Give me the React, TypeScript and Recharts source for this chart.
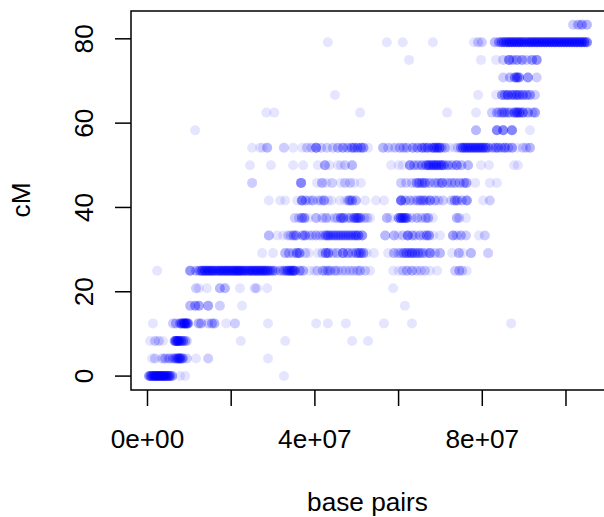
import React from "react";
import { ScatterChart, Scatter, XAxis, YAxis, ReferenceArea, Label } from "recharts";

// Each row: marker positions on one genetic-map level. Pairs are [position in Mb, number of markers there].
type Row = [number, number][];
const cMLevels = [0, 4.17, 8.33, 12.5, 16.67, 20.83, 25, 29.17, 33.33, 37.5, 41.67, 45.83, 50, 54.17, 58.33, 62.5, 66.67, 70.83, 75, 79.17, 83.33];
const row00: Row = [[0.4,5],[0.8,5],[1.1,5],[1.5,6],[1.8,6],[2.2,6],[2.5,6],[2.9,6],[3.2,6],[3.6,6],[3.9,6],[4.3,6],[4.7,6],[5.1,5],[5.4,5],[5.9,4],[7.8,1],[9.0,1],[32.6,1]];
const row01: Row = [[1.1,1],[1.8,2],[3.5,2],[4.2,3],[5.0,2],[5.4,2],[6.1,3],[6.6,4],[7.1,5],[7.5,6],[7.8,5],[8.2,4],[8.5,3],[9.4,2],[11.6,1],[14.5,2],[28.8,1]];
const row02: Row = [[0.6,1],[1.8,2],[2.7,2],[3.7,1],[6.5,5],[6.8,7],[7.2,7],[7.5,7],[8.0,6],[8.5,5],[9.0,3],[9.4,2],[22.3,1],[32.9,1],[48.9,1],[52.7,1]];
const row03: Row = [[1.3,1],[6.1,2],[6.8,3],[7.8,4],[8.2,6],[8.7,7],[9.0,7],[9.4,6],[9.7,5],[12.2,3],[12.8,3],[14.5,2],[15.4,3],[16,3],[18.8,1],[20.9,2],[28.8,1],[40.3,1],[43.1,1],[47.4,1],[56.5,1],[63.2,1],[86.9,1]];
const row04: Row = [[10.2,3],[11.4,4],[12.3,4],[14.5,4],[17.3,2],[22.6,1],[61.5,1]];
const row05: Row = [[11.6,2],[12.3,1],[14.2,1],[17.3,3],[18.5,3],[22.1,1],[25.7,2],[26.2,1],[28.6,1],[58.7,1]];
const row06: Row = [[2.3,1],[10.2,5],[11.6,3],[12.5,5],[13.1,6],[13.7,7],[14.3,7],[14.9,7],[15.5,7],[16.1,6],[16.7,6],[17.3,7],[17.9,7],[18.5,7],[19.1,7],[19.7,7],[20.3,7],[20.9,8],[21.5,8],[22.1,8],[22.7,7],[23.3,6],[23.9,6],[24.5,7],[25.1,7],[25.7,7],[26.3,7],[26.9,7],[27.5,7],[28.1,7],[28.7,6],[29.3,5],[29.9,4],[30.5,3],[31.7,3],[32.5,3],[32.9,3],[33.5,6],[34.1,7],[34.7,7],[35.2,6],[36.4,4],[37.2,3],[38.8,1],[39.9,1],[40.6,2],[41.9,3],[42.5,2],[43.1,3],[43.7,3],[44.8,3],[45.5,2],[46.5,2],[47.4,2],[48.4,2],[49.2,2],[50.1,2],[50.8,3],[52,2],[53.2,1],[58.7,1],[60,1],[61,2],[62,3],[63.2,3],[64.3,2],[65.3,2],[66.3,2],[67.5,1],[69.2,1],[73.5,2],[74.5,3],[75.2,2],[76.3,1]];
const row07: Row = [[27.4,1],[30,1],[32.9,3],[33.8,3],[34.8,2],[35.7,5],[36.3,5],[37.7,2],[38.5,1],[40.7,1],[41.8,2],[42.6,5],[43.2,5],[44.3,2],[45.3,3],[46.7,6],[47.9,4],[48.9,3],[49.9,4],[50.5,4],[51,4],[51.6,4],[52.4,1],[54.1,1],[57.5,1],[58.9,3],[59.9,2],[60.5,2],[61.2,4],[61.9,5],[62.6,4],[63.2,5],[63.9,4],[64.6,4],[65.2,3],[65.8,3],[66.6,2],[67.5,5],[68.7,2],[69.9,3],[72.8,1],[74.4,3],[75.3,1],[77.3,3],[81.4,2]];
const row08: Row = [[29,3],[31,1],[32.4,1],[33.6,2],[34.2,2],[34.9,4],[35.5,4],[37.1,4],[37.7,4],[38.7,2],[39.4,2],[40.3,3],[41.2,2],[41.9,2],[42.6,5],[43.2,5],[43.8,4],[44.4,4],[45,4],[45.6,4],[46.2,4],[46.8,4],[47.4,4],[48,4],[48.6,4],[49.2,4],[49.8,5],[50.4,5],[51.3,5],[56.8,3],[58.9,3],[59.9,1],[61,2],[62.2,6],[63.3,3],[64,2],[65.1,3],[66,2],[66.7,4],[67.3,4],[68.3,1],[69.9,1],[73,4],[73.9,2],[74.9,3],[76.1,2],[79.2,1],[80.6,2]];
const row09: Row = [[35.2,2],[36.2,2],[36.9,4],[37.5,4],[38.4,1],[40.3,3],[41.8,2],[42.7,3],[43.6,1],[44.8,2],[45.4,2],[46.2,5],[46.8,5],[47.8,2],[48.5,3],[49.4,5],[49.9,5],[50.4,5],[50.9,4],[51.8,2],[52.5,2],[53.2,1],[57.2,3],[58,1],[60,5],[60.5,6],[61,6],[61.5,6],[62,5],[63.1,2],[64.4,3],[65.5,2],[66.5,3],[67.1,3],[68.2,1],[73.9,3],[74.5,2],[76.1,1]];
const row10: Row = [[29,1],[31.7,1],[32.9,1],[35.8,1],[36.9,6],[37.8,3],[38.7,2],[39.5,3],[40.8,2],[41.5,2],[42.2,4],[43.2,1],[44,1],[46,1],[47.2,1],[47.9,2],[48.3,4],[48.9,4],[49.8,3],[52,1],[54.6,1],[56.5,1],[60.6,8],[61.6,3],[62.7,3],[63.7,2],[64.5,3],[65.2,4],[65.9,4],[66.6,3],[67.5,5],[68.7,3],[69.5,2],[70.6,2],[72.6,2],[73.4,4],[74,4],[75.1,3],[76.3,5],[80.2,1],[81.8,2]];
const row11: Row = [[25,2],[36.7,6],[40.5,1],[41.7,3],[42.7,1],[44.1,2],[46.2,1],[47.2,2],[48.4,2],[49.4,1],[51,1],[60.6,2],[61.8,2],[63.2,2],[64.3,4],[64.9,4],[65.6,4],[66.3,5],[67.4,3],[68.6,3],[69.5,3],[70.4,5],[71.6,3],[72.6,3],[73.5,3],[74.6,3],[75.6,3],[76.2,4],[78.3,1],[81.8,1],[83.5,1]];
const row12: Row = [[24.5,1],[29.5,1],[34.8,1],[37.2,1],[40.7,1],[42.4,4],[43.5,1],[45.5,1],[46.2,1],[47.2,2],[48.9,3],[58.2,1],[60,1],[61,1],[62.7,5],[63.7,3],[64.6,3],[65.6,4],[66.6,5],[67.2,6],[67.8,5],[68.4,6],[69,6],[69.6,5],[70.2,6],[70.8,5],[71.8,4],[72.8,3],[73.9,5],[75,3],[76.6,3],[79.7,1],[81.6,1],[87.6,1],[88.5,1]];
const row13: Row = [[25,1],[26.9,1],[27.5,1],[28.6,3],[32.6,2],[34.8,1],[37,1],[38.1,2],[39.2,2],[40.3,6],[41.5,2],[42.9,2],[44.3,2],[45.5,3],[46.7,4],[47.8,3],[48.8,4],[49.4,4],[50.2,4],[51,4],[51.6,4],[52.7,1],[56.3,3],[57.5,2],[58.4,1],[59.2,2],[60.3,3],[61.2,3],[62,3],[63.4,4],[64.5,4],[65.6,5],[66.3,4],[67,5],[68,5],[68.6,6],[69.2,6],[69.8,6],[70.3,3],[71.1,3],[72.2,1],[73.5,1],[74.2,2],[74.9,4],[75.4,6],[76,6],[76.6,6],[77.2,6],[77.8,6],[78.4,6],[79,6],[79.6,6],[80.2,6],[80.8,5],[81.4,4],[82.4,3],[83.2,4],[83.8,4],[84.6,3],[85.4,5],[86.2,3],[87.1,4],[88.3,1],[89.7,2],[90.5,2],[91.4,3]];
const row14: Row = [[11.4,1],[78.5,3],[83.5,6],[85,6],[87.1,6],[91.4,1]];
const row15: Row = [[28.4,1],[30.3,1],[50.8,1],[71.6,1],[78.5,1],[82.3,2],[83.5,3],[84,2],[84.7,4],[85.3,4],[86,3],[86.6,3],[87.7,6],[88.3,6],[88.9,6],[89.7,6],[90.9,4],[92,2],[92.6,4]];
const row16: Row = [[44.8,1],[79,1],[83.3,1],[84.7,4],[85.4,4],[86.1,6],[87,5],[87.7,4],[88.3,5],[88.9,4],[89.7,5],[90.6,4],[91.4,4],[92.6,2]];
const row17: Row = [[85,2],[86.6,3],[87.8,5],[88.3,6],[88.8,5],[90.9,5],[93,2]];
const row18: Row = [[62.5,1],[79.7,1],[83.3,1],[85,2],[86.4,6],[87.3,3],[88.3,4],[89.5,4],[90.6,2],[91.9,4],[93,5]];
const row19: Row = [[43.1,1],[57.2,1],[61,1],[68.2,1],[78,1],[79,2],[79.9,2],[83,3],[84,4],[84.6,5],[85.2,6],[85.8,6],[86.4,7],[87,7],[87.6,7],[88.2,7],[88.8,7],[89.4,7],[90,6],[90.6,6],[91.2,7],[91.8,7],[92.4,7],[93,7],[93.6,7],[94.2,7],[94.8,7],[95.4,7],[96,7],[96.6,7],[97.2,7],[97.8,7],[98.4,7],[99,7],[99.6,7],[100.2,7],[100.8,7],[101.4,7],[102,7],[102.6,7],[103.2,7],[103.8,7],[104.4,7],[105,6]];
const row20: Row = [[101.7,2],[102.9,3],[103.8,4],[105,3]];
const rows = [row00,row01,row02,row03,row04,row05,row06,row07,row08,row09,row10,row11,row12,row13,row14,row15,row16,row17,row18,row19,row20];

const xTicks = [0, 2e7, 4e7, 6e7, 8e7, 1e8];
const xTickLabels: Record<number, string> = { 0: "0e+00", 40000000: "4e+07", 80000000: "8e+07" };
const yTicks = [0, 20, 40, 60, 80];

const points = rows.flatMap((row, i) =>
  row.flatMap(([mb, n]) => Array.from({ length: n }, () => ({ bp: mb * 1e6, cM: cMLevels[i] })))
);

const FONT = "'Liberation Sans', Arial, sans-serif";
const FS = 26.2;
const XDOM: [number, number] = [-3.94e6, 110.04e6];
const YDOM: [number, number] = [-3.3, 86.6];

const Dot = (p: any) => <circle cx={p.cx} cy={p.cy} r={5} fill="#0000ff" fillOpacity={0.1} />;
const XTick = (p: any) => (
  <text x={p.x} y={448} textAnchor="middle" fontFamily={FONT} fontSize={FS} fill="#000">
    {xTickLabels[p.payload.value] ?? ""}
  </text>
);
const YTick = (p: any) => (
  <text transform={`translate(93 ${p.y}) rotate(-90)`} textAnchor="middle" fontFamily={FONT} fontSize={FS} fill="#000">
    {p.payload.value}
  </text>
);
const XTitle = () => (
  <text x={367.5} y={510.5} textAnchor="middle" fontFamily={FONT} fontSize={FS} fill="#000">base pairs</text>
);
const YTitle = () => (
  <text transform="translate(29.5 200) rotate(-90)" textAnchor="middle" fontFamily={FONT} fontSize={FS} fill="#000">cM</text>
);

export default function App() {
  return (
    <div style={{ position: "absolute", left: 0, top: 0, width: 604, height: 517, overflow: "hidden" }}>
      <ScatterChart width={610} height={517} margin={{ top: 11, right: 2, bottom: 0, left: 0 }}>
        <XAxis
          type="number"
          dataKey="bp"
          domain={XDOM}
          ticks={xTicks}
          allowDataOverflow
          height={127}
          tickSize={16}
          tick={<XTick />}
          interval={0}
          axisLine={false}
          tickLine={{ stroke: "#000", strokeWidth: 1.5 }}
        >
          <Label content={<XTitle />} />
        </XAxis>
        <YAxis
          type="number"
          dataKey="cM"
          domain={YDOM}
          ticks={yTicks}
          allowDataOverflow
          width={131}
          tickSize={16}
          tick={<YTick />}
          interval={0}
          axisLine={false}
          tickLine={{ stroke: "#000", strokeWidth: 1.5 }}
        >
          <Label content={<YTitle />} />
        </YAxis>
        <Scatter data={points} isAnimationActive={false} shape={<Dot />} />
        <ReferenceArea x1={XDOM[0]} x2={XDOM[1]} y1={YDOM[0]} y2={YDOM[1]} fill="none" stroke="#000" strokeWidth={1.5} ifOverflow="visible" />
      </ScatterChart>
    </div>
  );
}
